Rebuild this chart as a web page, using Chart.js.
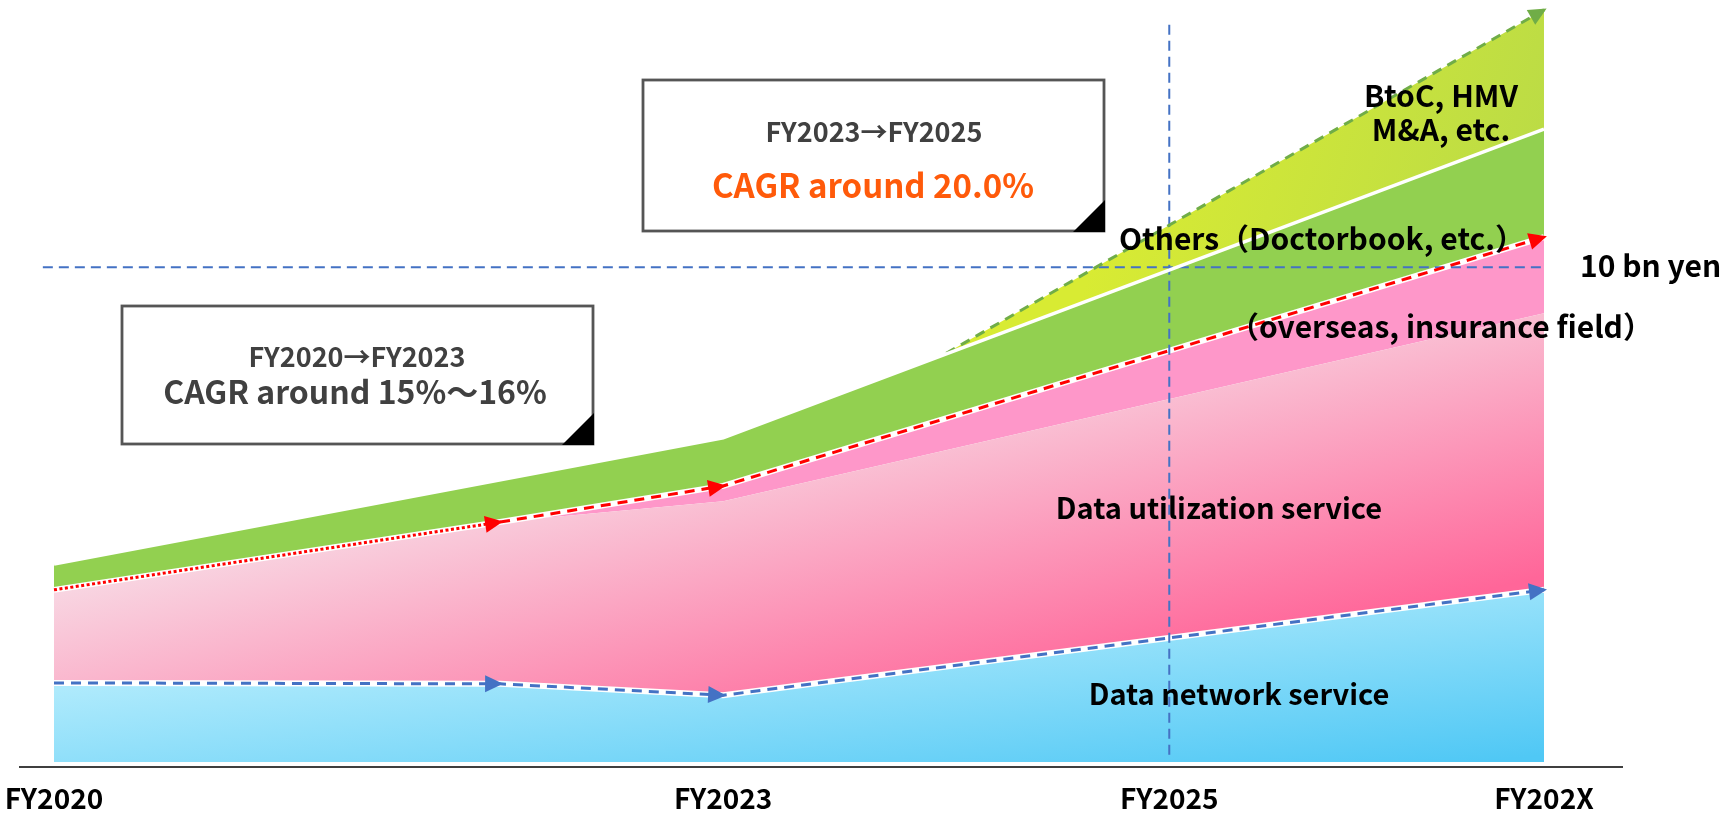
<!DOCTYPE html>
<html lang="en">
<head>
<meta charset="utf-8">
<title>Sales outlook by business</title>
<script src="https://cdn.jsdelivr.net/npm/chart.js@4.4.1/dist/chart.umd.min.js"></script>
<style>
  html, body { margin: 0; padding: 0; background: #ffffff; }
  #wrap { width: 1733px; height: 816px; position: relative; }
</style>
</head>
<body>
<div id="wrap"><canvas id="chart" width="1733" height="816"></canvas></div>
<script>
// Fiscal years on the horizontal axis; FY202X marks the end of the plan period.
const FY202X = 2026.68;
const tickYears = [2020, 2023, 2025, FY202X];
const tickLabels = ['FY2020', 'FY2023', 'FY2025', 'FY202X'];

// Running totals (bn yen) along the top edge of each business layer.
const networkYears = [2020, 2022, 2023, FY202X];
const networkTop = [1.60, 1.58, 1.35, 3.48];

const utilizationYears = [2020, 2022, 2023, FY202X];
const utilizationTop = [3.48, 4.85, 5.27, 9.07];

const overseasYears = [2020, 2022, 2023, FY202X];
const overseasTop = [3.48, 4.85, 5.58, 10.61];

const othersYears = [2020, 2023, FY202X];
const othersTop = [4.00, 6.55, 12.79];

const btocYears = [2024, FY202X];
const btocTop = [8.26, 15.20];

// Guide lines: the 10 bn yen level and the FY2025 milestone.
const targetLevel = 10;
const targetSpan = [2019.95, FY202X];
const milestoneYear = 2025;
const milestoneSpan = [0.15, 14.9];

const pts = (xs, ys) => xs.map((x, i) => ({ x, y: ys[i] }));

const FONT = '"Noto Sans CJK JP", "Noto Sans", sans-serif';

// Diagonal gradients for the filled layers.
function gradient(ctx, stops, from, to) {
  const { chart } = ctx;
  if (!chart.chartArea) return stops[stops.length - 1][1];
  const xs = chart.scales.x, ys = chart.scales.y;
  const x0 = xs.getPixelForValue(from[0]), y0 = ys.getPixelForValue(from[1]);
  const g = chart.ctx.createLinearGradient(x0, y0, x0 + to[0], y0 + to[1]);
  stops.forEach(([o, c]) => g.addColorStop(o, c));
  return g;
}
const blueFill = ctx => gradient(ctx, [[0, '#aeeafc'], [1, '#50c8f5']], [2020, 1.45], [23, 219]);
const pinkFill = ctx => gradient(ctx, [[0, '#f8d6e2'], [1, '#ff6699']], [2020, 3.48], [78, 325]);
const limeFill = ctx => gradient(ctx, [[0, '#d8eb33'], [1, '#bcdc45']], [2024.9, 14], [380, 110]);

const datasets = [
  { // 0: data network service
    data: pts(networkYears, networkTop),
    fill: 'origin', backgroundColor: blueFill,
    borderColor: '#4472c4', borderWidth: 3, borderDash: [10, 7],
    arrowAt: [1, 2, 3]
  },
  { // 1: data utilization service
    data: pts(utilizationYears, utilizationTop),
    fill: { target: 0 }, backgroundColor: pinkFill, borderWidth: 0
  },
  { // 2: overseas, insurance field
    data: pts(overseasYears, overseasTop),
    fill: { target: 1 }, backgroundColor: '#fe97c9',
    borderColor: '#ff0000', borderWidth: 3,
    segment: { borderDash: c => (c.p0DataIndex === 0 ? [3, 2.5] : [10, 7]) },
    arrowAt: [1, 2, 3]
  },
  { // 3: others (Doctorbook, etc.)
    data: pts(othersYears, othersTop),
    fill: { target: 2 }, backgroundColor: '#92d050',
    borderColor: '#ffffff', borderWidth: 3.5
  },
  { // 4: BtoC, HMV, M&A, etc.
    data: pts(btocYears, btocTop),
    fill: { target: 3 }, backgroundColor: limeFill,
    borderColor: '#70ad47', borderWidth: 3, borderDash: [10, 7],
    arrowAt: [1]
  },
  { // white edge under the network trend line
    data: pts(networkYears, networkTop),
    fill: false, borderColor: '#ffffff', borderWidth: 6, order: 1
  },
  { // white edge under the overseas trend line
    data: pts(overseasYears, overseasTop),
    fill: false, borderColor: '#ffffff', borderWidth: 6, order: 1
  },
  { // 10 bn yen level
    data: [{ x: targetSpan[0], y: targetLevel }, { x: targetSpan[1], y: targetLevel }],
    fill: false, borderColor: '#4472c4', borderWidth: 2, borderDash: [10, 6]
  },
  { // FY2025 milestone
    data: [{ x: milestoneYear, y: milestoneSpan[0] }, { x: milestoneYear, y: milestoneSpan[1] }],
    fill: false, borderColor: '#4472c4', borderWidth: 2, borderDash: [10, 6]
  }
];

// Triangular heads on the trend lines.
const arrowHeads = {
  id: 'arrowHeads',
  afterDatasetsDraw(chart) {
    const { ctx } = chart;
    chart.data.datasets.forEach((ds, di) => {
      if (!ds.arrowAt) return;
      const els = chart.getDatasetMeta(di).data;
      ctx.save();
      ctx.fillStyle = ds.borderColor;
      ds.arrowAt.forEach(i => {
        const p = els[i], q = els[i - 1];
        const a = Math.atan2(p.y - q.y, p.x - q.x);
        const c = Math.cos(a), s = Math.sin(a);
        const tx = p.x + c * 3, ty = p.y + s * 3;
        const bx = tx - c * 18, by = ty - s * 18;
        ctx.beginPath();
        ctx.moveTo(tx, ty);
        ctx.lineTo(bx - s * 8.5, by + c * 8.5);
        ctx.lineTo(bx + s * 8.5, by - c * 8.5);
        ctx.closePath();
        ctx.fill();
      });
      ctx.restore();
    });
  }
};

// Segment names and the two CAGR call-out boxes.
const annotations = {
  id: 'annotations',
  afterDraw(chart) {
    const { ctx } = chart;
    const text = (str, x, y, size, color, align = 'center') => {
      ctx.font = `bold ${size}px ${FONT}`;
      ctx.fillStyle = color;
      ctx.textAlign = align;
      ctx.textBaseline = 'middle';
      ctx.fillText(str, x, y);
    };
    const box = (x, y, w, h) => {
      ctx.save();
      ctx.fillStyle = '#ffffff';
      ctx.fillRect(x, y, w, h);
      ctx.strokeStyle = '#555555';
      ctx.lineWidth = 2.8;
      ctx.strokeRect(x, y, w, h);
      ctx.fillStyle = '#000000';
      ctx.beginPath();
      ctx.moveTo(x + w + 1, y + h - 31);
      ctx.lineTo(x + w + 1, y + h + 1);
      ctx.lineTo(x + w - 31, y + h + 1);
      ctx.closePath();
      ctx.fill();
      ctx.restore();
    };
    ctx.save();
    box(643, 80, 461, 151);
    text('FY2023→FY2025', 874, 132, 27, '#404040');
    text('CAGR around 20.0%', 873, 185, 33, '#ff5a0a');

    box(122, 306, 471, 138);
    text('FY2020→FY2023', 357, 357, 27, '#404040');
    text('CAGR around 15%～16%', 355, 392, 32, '#404040');

    text('BtoC, HMV', 1441, 96, 30, '#000000');
    text('M&A, etc.', 1441, 130, 30, '#000000');
    text('Others（Doctorbook, etc.）', 1322, 239, 30, '#000000');
    text('10 bn yen', 1580, 266, 30, '#000000', 'left');
    text('（overseas, insurance field）', 1441, 327, 30, '#000000');
    text('Data utilization service', 1219, 508, 29, '#000000');
    text('Data network service', 1239, 694, 29, '#000000');
    ctx.restore();
  }
};

new Chart(document.getElementById('chart'), {
  type: 'line',
  data: { datasets },
  options: {
    responsive: false,
    animation: false,
    events: [],
    layout: { padding: { left: 20, right: 111, top: 0, bottom: 0 } },
    elements: { point: { radius: 0 }, line: { tension: 0 } },
    plugins: {
      legend: { display: false },
      tooltip: { enabled: false },
      filler: { drawTime: 'beforeDatasetsDraw' }
    },
    scales: {
      x: {
        type: 'linear',
        min: 2019.8476,
        max: 2027.0297,
        grid: { display: false, drawTicks: false },
        border: { display: true, color: '#3f3f3f', width: 2 },
        afterBuildTicks: scale => { scale.ticks = tickYears.map(value => ({ value })); },
        afterFit: scale => { scale.height = 49; scale.paddingLeft = 0; scale.paddingRight = 0; },
        ticks: {
          autoSkip: false,
          maxRotation: 0,
          padding: 15,
          color: '#000000',
          font: { family: FONT, size: 28, weight: 'bold' },
          callback: value => tickLabels[tickYears.indexOf(value)]
        }
      },
      y: { type: 'linear', min: -0.1, max: 15.4, display: false }
    }
  },
  plugins: [arrowHeads, annotations]
});
</script>
</body>
</html>
